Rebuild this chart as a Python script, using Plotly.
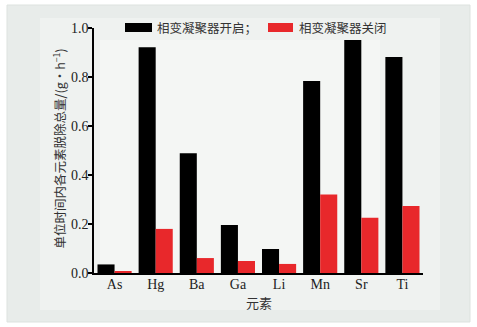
import plotly.graph_objects as go

elements = ["As", "Hg", "Ba", "Ga", "Li", "Mn", "Sr", "Ti"]
on_vals = [0.035, 0.921, 0.489, 0.196, 0.098, 0.784, 0.951, 0.882]
off_vals = [0.008, 0.180, 0.061, 0.049, 0.037, 0.320, 0.226, 0.273]
series_names = ["相变凝聚器开启；", "相变凝聚器关闭"]
y_ticks = [0.0, 0.2, 0.4, 0.6, 0.8, 1.0]
x_title = "元素"
y_title = "单位时间内各元素脱除总量/(g·h<sup>−1</sup>)"

W, H = 477, 327
L, R, T, B = 94, 54, 28, 54
pw, ph = W - L - R, H - T - B

def px_x(x):
    return (x - L) / pw

def px_y(y):
    return (H - B - y) / ph

serif = "Liberation Serif, Times New Roman, serif"
cjk = "Noto Sans CJK SC, sans-serif"

fig = go.Figure()
fig.add_trace(go.Bar(x=elements, y=on_vals, name=series_names[0], marker_color="#000000",
                     marker_line_width=0))
fig.add_trace(go.Bar(x=elements, y=off_vals, name=series_names[1], marker_color="#e8282b",
                     marker_line_width=0))

shapes = [
    dict(type="rect", xref="paper", yref="paper", layer="below",
         x0=px_x(7), x1=px_x(470), y0=px_y(322), y1=px_y(5),
         fillcolor="#e8ecea", line=dict(color="#dde2df", width=1)),
    dict(type="rect", xref="paper", yref="paper", layer="below",
         x0=px_x(40), x1=px_x(440), y0=px_y(310), y1=px_y(18),
         fillcolor="rgba(255,255,255,0.3)", line=dict(width=0)),
    dict(type="rect", xref="paper", yref="paper", layer="below",
         x0=px_x(100), x1=px_x(380), y0=px_y(280), y1=px_y(40),
         fillcolor="rgba(255,255,255,0.3)", line=dict(width=0)),
    dict(type="rect", xref="paper", yref="paper",
         x0=px_x(125), x1=px_x(152), y0=px_y(32), y1=px_y(23),
         fillcolor="#000000", line=dict(width=0)),
    dict(type="rect", xref="paper", yref="paper",
         x0=px_x(268), x1=px_x(293), y0=px_y(32), y1=px_y(23),
         fillcolor="#e8282b", line=dict(width=0)),
]

annotations = [
    dict(text=series_names[0], xref="paper", yref="paper", x=px_x(155), y=px_y(27.5),
         xanchor="left", yanchor="middle", showarrow=False,
         font=dict(family=cjk, size=12.5, color="#333333")),
    dict(text=series_names[1], xref="paper", yref="paper", x=px_x(297), y=px_y(27.5),
         xanchor="left", yanchor="middle", showarrow=False,
         font=dict(family=cjk, size=12.5, color="#333333")),
    dict(text=x_title, xref="paper", yref="paper", x=0.5, y=px_y(302),
         xanchor="center", yanchor="middle", showarrow=False,
         font=dict(family=cjk, size=13, color="#333333")),
    dict(text=y_title, xref="paper", yref="paper", x=px_x(58.5), y=px_y(149),
         xanchor="center", yanchor="middle", showarrow=False, textangle=-90,
         font=dict(family=cjk, size=12.5, color="#333333")),
]

fig.update_layout(
    width=W, height=H,
    margin=dict(l=L, r=R, t=T, b=B),
    paper_bgcolor="#ffffff",
    plot_bgcolor="rgba(0,0,0,0)",
    barmode="group",
    bargap=0.17,
    bargroupgap=0,
    showlegend=False,
    shapes=shapes,
    annotations=annotations,
    xaxis=dict(
        range=[-0.5, 7.5],
        showline=True, linecolor="#000000", linewidth=1.5,
        ticks="", showgrid=False, zeroline=False,
        ticklabelstandoff=-3,
        tickfont=dict(family=serif, size=14, color="#222222"),
    ),
    yaxis=dict(
        range=[0, 1.0],
        tickvals=y_ticks,
        ticktext=[f"{v:.1f}" for v in y_ticks],
        showline=True, linecolor="#000000", linewidth=1.5,
        ticks="outside", ticklen=4, tickwidth=1.5, tickcolor="#000000",
        showgrid=False, zeroline=False,
        ticklabelstandoff=-3,
        tickfont=dict(family=serif, size=14, color="#222222"),
    ),
)

fig.write_html("out.html")
